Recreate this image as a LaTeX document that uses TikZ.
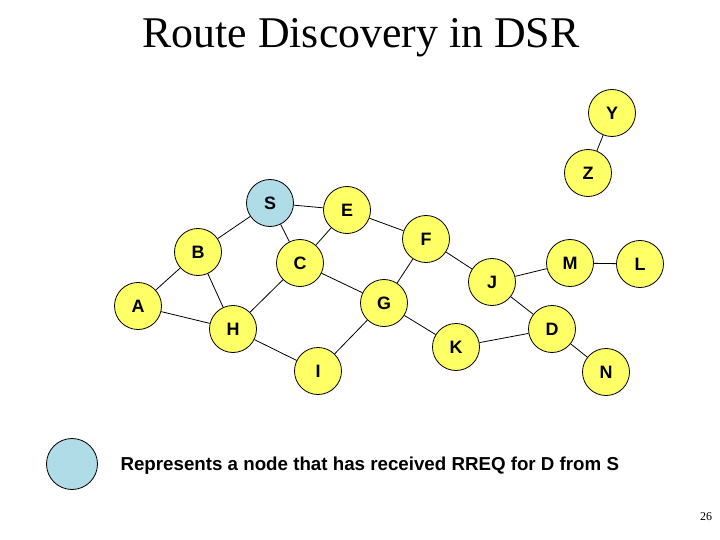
\documentclass[tikz,border=0pt]{standalone}
\usepackage{fontspec}
\setmainfont{Liberation Serif}
\newfontfamily\arialfont{Liberation Sans}
\begin{document}
\begin{tikzpicture}[x=1bp,y=-1bp,
  net/.style={circle,draw=black,line width=0.8bp,fill=nodeyellow,minimum size=47bp,inner sep=0pt,font=\arialfont\bfseries\fontsize{18}{18}\selectfont},
  srcnode/.style={net,fill=nodeblue},
  link/.style={draw=black,line width=0.8bp}]
\definecolor{nodeyellow}{RGB}{255,255,102}
\definecolor{nodeblue}{RGB}{176,220,232}
\useasboundingbox[fill=white] (0,0) rectangle (720,540);
\node[font=\fontsize{44}{44}\selectfont] (title) at (361,38) {Route Discovery in DSR};
\node[net] (Y) at (612,113) {Y};
\node[net] (Z) at (588,173) {Z};
\node[srcnode] (S) at (270,203) {S};
\node[net] (E) at (347,210) {E};
\node[net] (B) at (198,252) {B};
\node[net] (F) at (426,239) {F};
\node[net] (C) at (300,263) {C};
\node[net] (J) at (492,282) {J};
\node[net] (M) at (570,263) {M};
\node[net] (L) at (640,264) {L};
\node[net] (A) at (138,306) {A};
\node[net] (G) at (384,303) {G};
\node[net] (H) at (233,329) {H};
\node[net] (D) at (552,329) {D};
\node[net] (K) at (456,347) {K};
\node[net] (I) at (318,371) {I};
\node[net] (N) at (606,372) {N};
\foreach \a/\b in {Y/Z,S/E,S/B,S/C,E/C,E/F,F/G,F/J,C/G,C/H,B/A,B/H,A/H,H/I,I/G,G/K,K/D,J/D,J/M,M/L,D/N}
  \draw[link] (\a) -- (\b);
\node[srcnode,minimum size=51bp] (legend) at (72,464) {};
\node[anchor=west,font=\arialfont\bfseries\fontsize{18.8}{18.8}\selectfont] (legendtext) at (117,466) {Represents a node that has received RREQ for D from S};
\node[font=\fontsize{12}{12}\selectfont] (page) at (706,517) {26};
\end{tikzpicture}
\end{document}
